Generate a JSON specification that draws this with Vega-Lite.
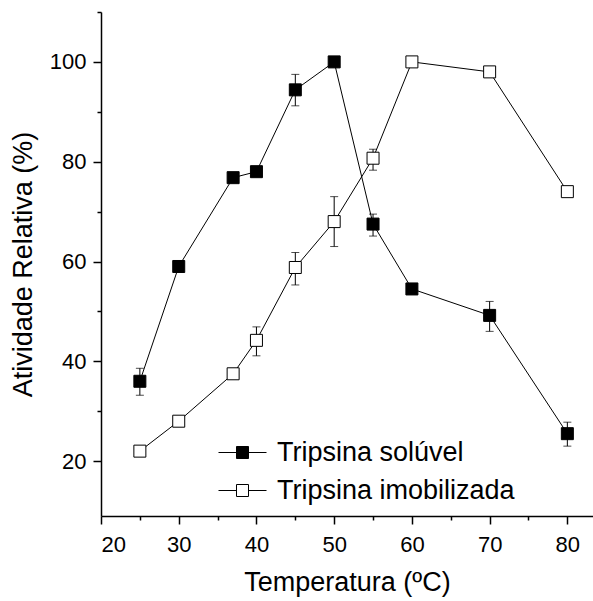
{
  "$schema": "https://vega.github.io/schema/vega-lite/v6.json",
  "autosize": "none",
  "width": 492,
  "height": 504,
  "padding": {"left": 101, "top": 12, "right": 0, "bottom": 85},
  "background": "white",
  "config": {
    "view": {"stroke": null},
    "font": "Liberation Sans",
    "axis": {
      "labelFont": "Liberation Sans",
      "titleFont": "Liberation Sans",
      "labelColor": "black",
      "titleColor": "black",
      "domainColor": "black",
      "tickColor": "black",
      "domainWidth": 1.5,
      "tickWidth": 1.5,
      "labelFontSize": 22,
      "titleFontSize": 27,
      "titleFontWeight": "normal",
      "grid": false
    },
    "legend": {"labelFont": "Liberation Sans"}
  },
  "data": {
    "values": [
      {"serie": "Tripsina solúvel", "temp": 25, "atividade": 36.0, "lo": 33.2, "hi": 38.6},
      {"serie": "Tripsina solúvel", "temp": 30, "atividade": 59.0, "lo": 58.2, "hi": 59.8},
      {"serie": "Tripsina solúvel", "temp": 37, "atividade": 76.8, "lo": 76.0, "hi": 77.6},
      {"serie": "Tripsina solúvel", "temp": 40, "atividade": 78.0, "lo": 77.2, "hi": 78.8},
      {"serie": "Tripsina solúvel", "temp": 45, "atividade": 94.4, "lo": 91.2, "hi": 97.5},
      {"serie": "Tripsina solúvel", "temp": 50, "atividade": 100.0, "lo": 99.5, "hi": 100.5},
      {"serie": "Tripsina solúvel", "temp": 55, "atividade": 67.5, "lo": 65.1, "hi": 69.5},
      {"serie": "Tripsina solúvel", "temp": 60, "atividade": 54.5, "lo": 53.8, "hi": 55.2},
      {"serie": "Tripsina solúvel", "temp": 70, "atividade": 49.2, "lo": 46.0, "hi": 52.0},
      {"serie": "Tripsina solúvel", "temp": 80, "atividade": 25.5, "lo": 23.0, "hi": 27.8},
      {"serie": "Tripsina imobilizada", "temp": 25, "atividade": 22.0, "lo": 21.4, "hi": 22.6},
      {"serie": "Tripsina imobilizada", "temp": 30, "atividade": 28.0, "lo": 27.4, "hi": 28.6},
      {"serie": "Tripsina imobilizada", "temp": 37, "atividade": 37.5, "lo": 36.9, "hi": 38.1},
      {"serie": "Tripsina imobilizada", "temp": 40, "atividade": 44.2, "lo": 41.1, "hi": 46.9},
      {"serie": "Tripsina imobilizada", "temp": 45, "atividade": 58.8, "lo": 55.3, "hi": 61.8},
      {"serie": "Tripsina imobilizada", "temp": 50, "atividade": 68.0, "lo": 63.0, "hi": 73.0},
      {"serie": "Tripsina imobilizada", "temp": 55, "atividade": 80.7, "lo": 78.3, "hi": 82.5},
      {"serie": "Tripsina imobilizada", "temp": 60, "atividade": 100.0, "lo": 99.5, "hi": 100.5},
      {"serie": "Tripsina imobilizada", "temp": 70, "atividade": 98.0, "lo": 97.0, "hi": 98.7},
      {"serie": "Tripsina imobilizada", "temp": 80, "atividade": 74.0, "lo": 73.4, "hi": 74.6}
    ]
  },
  "encoding": {
    "x": {
      "field": "temp",
      "type": "quantitative",
      "scale": {"domain": [20, 83.3], "nice": false, "zero": false},
      "axis": {
        "title": "Temperatura (ºC)",
        "values": [20, 25, 30, 35, 40, 45, 50, 55, 60, 65, 70, 75, 80],
        "labelExpr": "datum.value % 10 === 0 ? datum.label : ''",
        "tickSize": {"condition": {"test": "datum.value % 10 === 0", "value": 8}, "value": 4},
        "labelPadding": 10,
        "titlePadding": 14
      }
    },
    "y": {
      "field": "atividade",
      "type": "quantitative",
      "scale": {"domain": [9, 110], "nice": false, "zero": false},
      "axis": {
        "title": "Atividade Relativa (%)",
        "values": [20, 30, 40, 50, 60, 70, 80, 90, 100, 110],
        "labelExpr": "datum.value % 20 === 0 ? datum.label : ''",
        "tickSize": {"condition": {"test": "datum.value % 20 === 0", "value": 8}, "value": 4},
        "labelPadding": 7,
        "titlePadding": 12
      }
    }
  },
  "layer": [
    {
      "mark": {"type": "line", "color": "black", "strokeWidth": 1},
      "encoding": {"detail": {"field": "serie"}}
    },
    {
      "mark": {"type": "errorbar", "ticks": {"size": 8}, "color": "black", "thickness": 1},
      "encoding": {
        "y": {"field": "lo", "type": "quantitative", "title": "Atividade Relativa (%)"},
        "y2": {"field": "hi"}
      }
    },
    {
      "mark": {"type": "square", "size": 144, "stroke": "black", "strokeWidth": 1, "opacity": 1, "filled": true},
      "encoding": {
        "fill": {
          "field": "serie",
          "type": "nominal",
          "scale": {"domain": ["Tripsina solúvel", "Tripsina imobilizada"], "range": ["black", "white"]},
          "legend": {
            "title": null,
            "orient": "none",
            "legendX": 117,
            "legendY": 416,
            "symbolType": "M-1,0H-0.25M0.25,0H1M-0.25,-0.25H0.25V0.25H-0.25Z",
            "symbolSize": 2304,
            "symbolStrokeColor": "black",
            "symbolStrokeWidth": 1,
            "labelFontSize": 27,
            "labelColor": "black",
            "labelOffset": 10,
            "labelLimit": 0,
            "rowPadding": -3
          }
        }
      }
    }
  ]
}
